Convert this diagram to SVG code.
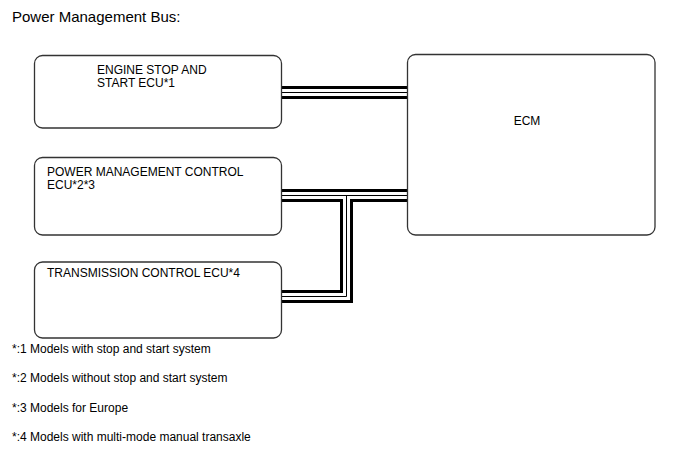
<svg xmlns="http://www.w3.org/2000/svg" width="688" height="463" viewBox="0 0 688 463">
<style>
text{font-family:"Liberation Sans",Arial,sans-serif;font-size:12px;fill:#000}
.box{fill:#fff;stroke:#333;stroke-width:1.3}
.b1{fill:none;stroke:#000;stroke-width:13}
.b2{fill:none;stroke:#fff;stroke-width:7}
.b3{fill:none;stroke:#000;stroke-width:1}
</style>
<rect width="688" height="463" fill="#fff"/>
<text x="12" y="22" style="font-size:15px">Power Management Bus:</text>
<g id="connectors">
<path class="b1" d="M281 92.5H408"/>
<path class="b1" d="M281 195.5H408"/>
<path class="b1" d="M281 296.5H346.5V195.5"/>
<path class="b2" d="M281 92.5H408"/>
<path class="b2" d="M281 195.5H408"/>
<path class="b2" d="M281 296.5H346.5V195.5"/>
<path class="b3" d="M281 92.5H408"/>
<path class="b3" d="M281 195.5H408"/>
<path class="b3" d="M281 296.5H346.5V195.5"/>
</g>
<g id="engine-stop-start-ecu">
<rect class="box" x="34.5" y="55.5" width="247" height="72.5" rx="8"/>
<text x="97" y="74">ENGINE STOP AND</text>
<text x="97" y="87">START ECU*1</text>
</g>
<g id="power-management-control-ecu">
<rect class="box" x="34.5" y="157.5" width="247" height="77.5" rx="8"/>
<text x="47" y="176">POWER MANAGEMENT CONTROL</text>
<text x="47" y="189">ECU*2*3</text>
</g>
<g id="transmission-control-ecu">
<rect class="box" x="34.5" y="262" width="247" height="76" rx="8"/>
<text x="47" y="277">TRANSMISSION CONTROL ECU*4</text>
</g>
<g id="ecm">
<rect class="box" x="407.5" y="54.5" width="247.5" height="180.5" rx="8"/>
<text x="527" y="125" text-anchor="middle">ECM</text>
</g>
<g id="notes">
<text x="12" y="353">*:1 Models with stop and start system</text>
<text x="12" y="382">*:2 Models without stop and start system</text>
<text x="12" y="412">*:3 Models for Europe</text>
<text x="12" y="441">*:4 Models with multi-mode manual transaxle</text>
</g>
</svg>
